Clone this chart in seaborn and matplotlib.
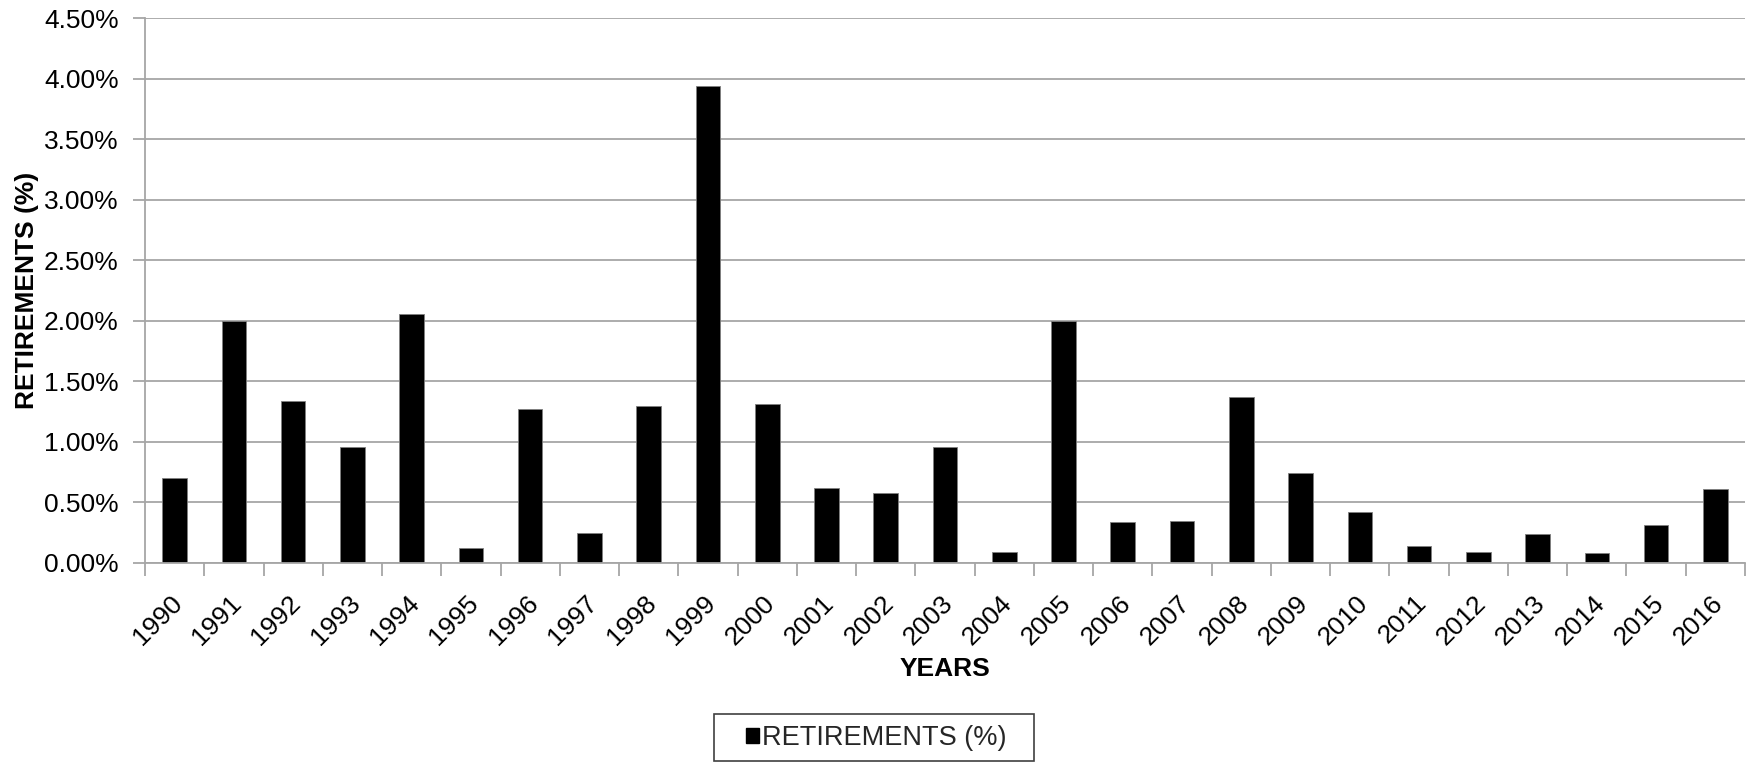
import matplotlib
matplotlib.use("Agg")
import matplotlib.pyplot as plt
import matplotlib.ticker as mticker
import matplotlib.transforms as mtransforms
from matplotlib.patches import Patch, Rectangle
import seaborn as sns
import pandas as pd

years = [str(y) for y in range(1990, 2017)]
retirements = [0.70, 2.00, 1.34, 0.96, 2.06, 0.12, 1.27, 0.25, 1.30, 3.94,
               1.31, 0.62, 0.58, 0.96, 0.09, 2.00, 0.34, 0.35, 1.37, 0.74,
               0.42, 0.14, 0.09, 0.24, 0.08, 0.31, 0.61]

df = pd.DataFrame({"year": years, "value": retirements})

sns.set_theme(style="white")
plt.rcParams["font.family"] = ["Liberation Sans", "DejaVu Sans"]

W, H = 1754, 764
fig = plt.figure(figsize=(W / 100, H / 100), dpi=100)
ax = fig.add_axes([145 / W, 1 - 563 / H, (1745 - 145) / W, (563 - 18) / H])

sns.barplot(data=df, x="year", y="value", color="black", width=0.415,
            edgecolor="#7f7f7f", linewidth=0.6, saturation=1, ax=ax)

ax.set_xlim(-0.5, len(years) - 0.5)
ax.set_ylim(0, 4.5)
ax.yaxis.set_major_locator(mticker.MultipleLocator(0.5))
ax.yaxis.set_major_formatter(mticker.FuncFormatter(lambda v, p: f"{v:.2f}%"))
ax.grid(axis="y", color="#a6a6a6", linewidth=1.3)
ax.set_axisbelow(True)

for side in ["top", "right"]:
    ax.spines[side].set_visible(False)
for side in ["left", "bottom"]:
    ax.spines[side].set_color("#a6a6a6")
    ax.spines[side].set_linewidth(1.3)

# category boundary ticks on the x axis
ax.set_xticks([i - 0.5 for i in range(len(years) + 1)], minor=True)
ax.tick_params(axis="x", which="minor", length=9, width=1.3, color="#a6a6a6", direction="out")
ax.tick_params(axis="x", which="major", length=0, pad=26, labelsize=19, labelcolor="black")
ax.tick_params(axis="y", length=9, width=1.3, color="#a6a6a6", direction="out",
               labelsize=19, pad=10, labelcolor="black")
ax.yaxis.set_ticks_position("left")
ax.xaxis.set_ticks_position("bottom")
shift = mtransforms.ScaledTranslation(4 / 100, 0, fig.dpi_scale_trans)
for lab in ax.get_xticklabels():
    lab.set_rotation(45)
    lab.set_ha("right")
    lab.set_va("center")
    lab.set_rotation_mode("anchor")
    lab.set_transform(lab.get_transform() + shift)

ax.set_xlabel("YEARS", fontsize=19, fontweight="bold", color="black")
ax.xaxis.set_label_coords(0.5, (563 - 657) / 545)
ax.set_ylabel("RETIREMENTS (%)", fontsize=19, fontweight="bold", color="black")
ax.yaxis.set_label_coords((39 - 145) / 1600, 0.5)

# legend with a boxed frame below the axis title
handle = Patch(facecolor="black", edgecolor="black")
leg = fig.legend(handles=[handle], labels=["RETIREMENTS (%)"], loc="center",
                 bbox_to_anchor=(876 / W, 1 - 738 / H), frameon=False,
                 fontsize=19.5, handlelength=0.5, handleheight=0.5,
                 handletextpad=0.1, borderpad=0, borderaxespad=0)
fig.patches.append(Rectangle((714 / W, 1 - 761 / H), 320 / W, 47 / H,
                             transform=fig.transFigure, fill=False,
                             edgecolor="#404040", linewidth=1.2))

fig.savefig("out.png", dpi=100)
